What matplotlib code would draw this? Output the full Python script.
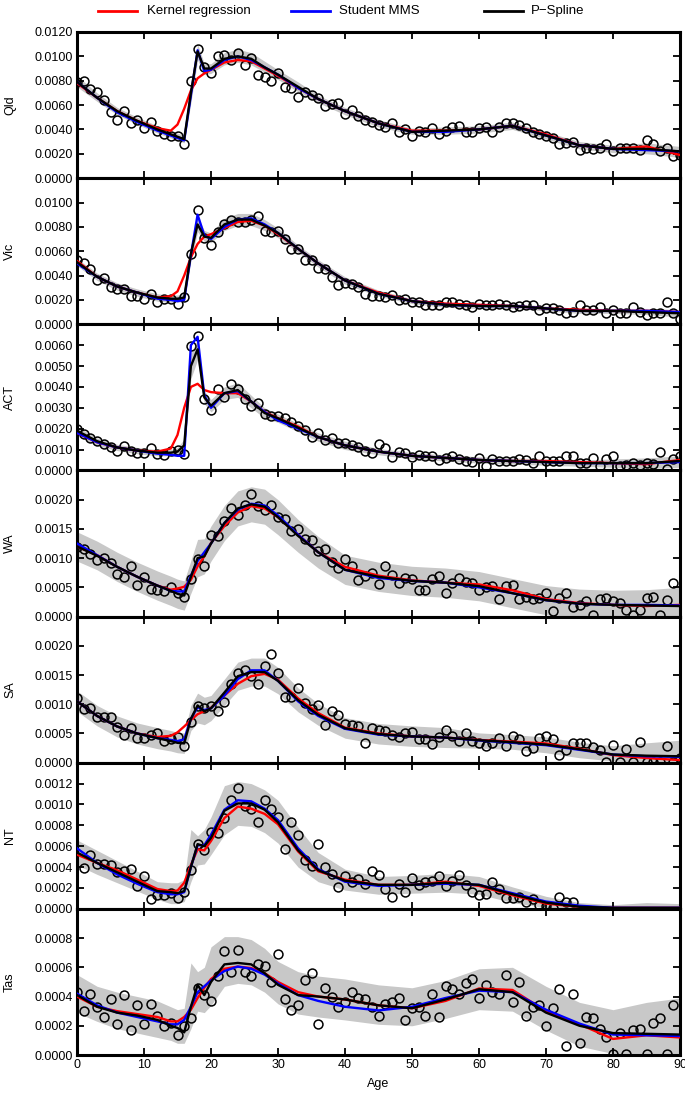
import numpy as np
import matplotlib
matplotlib.use("Agg")
import matplotlib.pyplot as plt
from matplotlib.lines import Line2D
from matplotlib.ticker import FormatStrFormatter

plt.rcParams['font.family'] = ['Liberation Sans', 'DejaVu Sans']

nan = np.nan
SCALE = 1e-4  # all values below are in units of 1e-4

ages = np.arange(0, 91)
grid_ages = [0, 3, 6, 9, 12,
             14, 15, 16, 17, 18, 19, 20,
             22, 24, 26, 28, 30,
             33, 36, 40,
             45, 50, 55, 60, 65, 70, 75, 80, 85, 90]

region_names = ["Qld", "Vic", "ACT", "WA", "SA", "NT", "Tas"]
legend_labels = ["Kernel regression", "Student MMS", "P\u2212Spline"]

# ---------------- Qld ----------------
qld_obs = [79, 80, 73, 71, 64, 54, 48, 55, 45, 48,
           41, 46, 39, 36, 35, 35, 28, 80, 106, 91,
           86, 100, 101, 97, 103, 93, 99, 85, 83, 80,
           86, 75, 74, 67, 71, 68, 66, 59, 61, 62,
           53, 56, 51, 48, 46, 44, 42, 45, 38, 40,
           35, 39, 38, 41, 36, 39, 42, 43, 38, 38,
           41, 42, 38, 42, 45, 45, 44, 41, 38, 36,
           35, 33, 28, 29, 30, 23, 25, 24, 25, 28,
           22, 25, 25, 25, 23, 31, 28, 22, 25, 18,
           19]
qld_kernel = [78, 66, 55, 47, 41, 39, 44, 57, 72, 82, 86, 89, 95, 97, 96, 90, 84,
              74, 65, 55, 45, 39, 39, 40, 43, 36, 27, 24, 26, 19]
qld_mms = [79, 66, 54, 46, 39, 35, 33, 31, 68, 105, 88, 89, 97, 100, 97, 91, 85,
           74, 65, 55, 45, 38, 38, 40, 43, 35, 27, 24, 23, 22]
qld_pspline = [79, 66, 55, 47, 40, 36, 34, 32, 70, 104, 90, 90, 98, 100, 98, 91, 85,
               75, 65, 55, 45, 38, 39, 40, 43, 35, 27, 24, 24, 22]
qld_lo = [75, 63, 52, 44, 37, 33, 31, 29, 62, 97, 85, 86, 93, 95, 93, 87, 81,
          71, 62, 52, 42, 36, 36, 37, 40, 32, 24, 21, 20, 17]
qld_hi = [84, 70, 58, 50, 43, 39, 37, 35, 76, 110, 94, 94, 103, 106, 103, 96, 89,
          79, 68, 58, 48, 41, 42, 43, 46, 38, 30, 27, 29, 26]

# ---------------- Vic ----------------
vic_obs = [53, 50, 45, 36, 38, 31, 29, 29, 23, 23,
           21, 25, 18, 21, 21, 17, 22, 58, 94, 71,
           65, 76, 82, 86, 84, 84, 86, 89, 77, 76,
           77, 70, 62, 62, 53, 53, 46, 45, 39, 32,
           34, 33, 31, 25, 23, 23, 22, 24, 20, 21,
           18, 18, 16, 16, 16, 18, 18, 17, 16, 14,
           17, 16, 16, 17, 16, 14, 15, 16, 16, 12,
           13, 13, 12, 9, 10, 16, 12, 12, 14, 9,
           12, 9, 9, 14, 10, 8, 9, 9, 18, 9,
           4]
vic_kernel = [52, 39, 31, 26, 22, 23, 27, 40, 55, 66, 72, 74, 79, 84, 85, 81, 74,
              62, 50, 36, 26, 19, 17, 16, 15, 13, 12, 11, 11, 10]
vic_mms = [50, 39, 31, 26, 21, 20, 19, 20, 57, 90, 73, 70, 80, 86, 87, 82, 75,
           62, 50, 36, 25, 19, 16, 15, 15, 13, 11, 11, 11, 10]
vic_pspline = [51, 39, 31, 26, 22, 21, 21, 22, 58, 82, 72, 71, 82, 86, 86, 81, 75,
               62, 50, 36, 25, 19, 16, 15, 15, 13, 11, 11, 10, 9]
vic_lo = [48, 36, 28, 23, 19, 18, 18, 19, 52, 76, 68, 67, 77, 81, 81, 77, 71,
          59, 47, 33, 23, 17, 14, 13, 13, 11, 9, 9, 8, 6]
vic_hi = [54, 42, 34, 29, 25, 24, 24, 25, 63, 88, 77, 75, 87, 91, 91, 86, 79,
          65, 53, 39, 28, 21, 18, 17, 17, 15, 13, 13, 13, 12]

# ---------------- ACT ----------------
act_obs = [20, 17.5, 15.3, 14, 12.7, 11.3, 9.5, 11.6, 9.2, 8.4,
           8.4, 10.8, 7.9, 7.2, 9.2, 9.6, 7.9, 59.8, 64.5, 34,
           29, 38.9, 35.2, 41.3, 38.9, 34.4, 30.9, 32.2, 26.8, 26,
           26, 24.9, 23.3, 21.5, 19.6, 15.9, 18, 14.5, 15.3, 13.2,
           13.2, 12.4, 11.1, 9.5, 8.4, 12.7, 10.8, 6.4, 8.8, 8.4,
           6.4, 7.6, 6.8, 7.1, 5.1, 5.9, 6.8, 5.5, 4.3, 3.9,
           5.9, 1.9, 5.5, 4.3, 4.7, 4.3, 5.5, 4.8, 3.5, 6.8,
           4.3, 4.5, 4.5, 6.8, 6.7, 3.5, 3.5, 5.9, 1.9, 5.6,
           6.8, 1.9, 2.4, 3.5, 2.7, 3.4, 3.2, 8.7, 0.6, 5.5,
           6.8]
act_kernel = [18, 13.5, 11, 9.5, 9, 10.5, 17, 30, 40, 41.5, 38.5, 37.5, 37, 37, 33, 28, 25,
              21, 16, 12, 9, 7, 6, 5, 4.5, 4.5, 4, 3.5, 3, 5]
act_mms = [18, 13.5, 11, 9.5, 8, 7.5, 7, 7, 60, 64, 36, 30, 37, 38, 33, 28, 24,
           20, 16, 12, 9, 7, 6, 5, 4.5, 4, 3.5, 3.5, 3.5, 4]
act_pspline = [19, 14, 11, 9.5, 8.5, 8.5, 9, 12, 50, 58, 35, 31, 37, 38.5, 33, 27.5, 25,
               20.5, 16, 12, 9, 7, 6, 5, 4.5, 4, 3.5, 3.5, 3.5, 4.5]
act_lo = [16.5, 12, 9.5, 8, 7, 7, 7, 9, 44, 53, 32, 28, 34, 35, 30, 25, 23,
          18.5, 14, 10, 7.5, 5.5, 4.5, 3.5, 3, 2.5, 2, 1.5, 1, 1.5]
act_hi = [21, 15.5, 12.5, 11, 10, 10, 11, 15, 56, 63, 38, 34, 40, 42, 36, 30, 27,
          22.5, 18, 14, 10.5, 8.5, 7.5, 6.5, 6, 5.5, 5, 5.5, 6, 7]

# ---------------- WA ----------------
wa_obs = [11.9, 11.5, 10.7, 9.7, 10.1, 9.1, 7.3, 6.7, 8.7, 5.4,
          6.7, 4.7, 4.5, 4.4, 5.1, 4.0, 3.3, 6.5, 9.8, 8.7,
          14.0, 13.8, 16.3, 18.6, 17.3, 19.1, 20.9, 18.9, 18.2, 19.1,
          17.0, 16.7, 14.6, 14.9, 13.3, 13.1, 11.3, 11.5, 9.3, 8.3,
          9.9, 8.7, 6.3, 7.0, 7.4, 5.6, 8.7, 7.1, 5.8, 6.6,
          6.4, 4.6, 4.6, 6.5, 6.9, 4.0, 5.7, 6.6, 5.9, 5.8,
          4.6, 5.1, 5.3, 3.0, 5.3, 5.4, 3.0, 3.3, 3.0, 3.1,
          4.0, 1.0, 3.1, 4.1, 1.7, 2.0, 2.6, 0.3, 3.0, 3.1,
          2.7, 2.3, 1.1, 0.3, 1.1, 3.1, 3.4, 0.3, 2.9, 5.8,
          nan]
wa_kernel = [12, 10.5, 8.5, 6.8, 5.3, 4.6, 4.8, 5.1, 6.3, 8.6, 10.3, 12.6, 15.5, 17.8, 18.9, 18.5, 17,
             14, 11, 8.5, 7, 6.2, 5.8, 5.5, 4.5, 3, 2.3, 2, 1.8, 2]
wa_mms = [12.5, 10.5, 8.5, 6.8, 5.3, 4.4, 4.3, 4.3, 7, 9.5, 11, 12.5, 16, 18.3, 19.3, 19, 17.3,
          14, 11, 8, 6.6, 6.1, 5.8, 5, 4, 2.8, 2.2, 2, 2, 1.9]
wa_pspline = [12, 10.4, 8.5, 6.8, 5.3, 4.4, 3.9, 3.6, 6.8, 10, 10.3, 12.5, 16, 18.5, 19.2, 18.8, 17,
              13.8, 11, 8, 6.8, 6.1, 5.8, 5.2, 4, 2.8, 2.2, 2, 1.9, 1.8]
wa_lo = [9.5, 8, 6, 4.3, 2.8, 1.9, 1.4, 1.1, 4, 6.8, 7.3, 9.5, 13, 15.5, 16.2, 15.8, 14,
         11, 8.3, 5.5, 4.3, 3.6, 3.3, 2.7, 1.5, 0.3, 0, 0, 0, 0]
wa_hi = [14.5, 12.9, 11, 9.3, 7.8, 6.9, 6.4, 6.1, 9.6, 13.2, 13.3, 15.5, 19, 21.5, 22.2, 21.8, 20,
         16.6, 13.7, 10.5, 9.3, 8.6, 8.3, 7.7, 6.5, 5.3, 4.7, 4.5, 4.6, 5]

# ---------------- SA ----------------
sa_obs = [11.1, 9.2, 9.4, 7.8, 7.8, 7.8, 6.1, 4.7, 5.9, 4.3,
          4.3, 4.7, 5.1, 3.7, 4.1, 4.4, 2.8, 7.0, 9.7, 9.3,
          9.7, 8.8, 10.4, 13.5, 15.3, 15.8, 14.9, 13.5, 16.5, 18.6,
          15.3, 11.3, 11.3, 12.7, 10.2, 9.2, 9.9, 6.4, 8.8, 8.1,
          6.7, 6.4, 6.3, 3.4, 6.0, 5.6, 5.4, 4.7, 4.4, 5.1,
          5.2, 4.1, 4.1, 3.2, 4.4, 5.6, 4.5, 3.8, 5.1, 3.7,
          3.3, 2.9, 3.4, 4.2, 2.8, 4.6, 4.1, 2.0, 2.5, 4.2,
          4.5, 4.0, 1.3, 2.2, 3.3, 3.3, 3.4, 2.7, 2.1, 0.05,
          3.1, 0.05, 2.4, 0.05, 3.6, 0.05, 0.05, 0.05, 2.9, 0.05,
          0.8]
sa_kernel = [10.5, 8, 6.2, 5, 4.4, 4.6, 5.2, 6.2, 7.3, 8.3, 8.8, 9.4, 11.5, 13.5, 14.8, 15.2, 14.2,
             11, 8.5, 6, 5, 4.5, 4.3, 3.9, 3.6, 3.3, 2.4, 1.3, 0.8, 0.45]
sa_mms = [10.5, 8, 6.2, 5, 4.2, 3.9, 3.7, 4, 7.5, 9.5, 9, 9.3, 11.5, 14.3, 15.8, 15.8, 14,
          10.5, 8, 5.8, 4.8, 4.5, 4.3, 3.8, 3.4, 3, 2.2, 1.4, 1.1, 1.0]
sa_pspline = [10.5, 8, 6.2, 5, 4.2, 3.7, 3.4, 3.3, 7.5, 9.8, 8.8, 9.3, 12, 14.8, 15.5, 15.5, 14,
              10.7, 8.2, 5.9, 4.9, 4.5, 4.3, 3.85, 3.5, 3.1, 2.3, 1.4, 1.2, 1.1]
sa_lo = [8.8, 6.3, 4.4, 3.2, 2.4, 2.0, 1.7, 1.6, 5.5, 6.8, 6.5, 7.2, 9.8, 12.4, 13.1, 13.1, 11.8,
         8.7, 6.4, 4.2, 3.2, 2.8, 2.6, 2.5, 2.3, 1.7, 0.85, 0.3, 0, 0]
sa_hi = [12.3, 9.8, 8.0, 6.8, 6.0, 5.5, 5.2, 5.1, 9.8, 11.9, 11.2, 11.5, 14.3, 17.2, 17.9, 17.9, 16.3,
         12.8, 10.1, 7.7, 6.7, 6.3, 6.0, 5.1, 4.8, 4.4, 3.5, 2.9, 3.4, 3.85]

# ---------------- NT ----------------
nt_obs = [nan, 3.9, 5.2, 4.3, 4.3, 4.2, 3.5, 3.6, 3.8, 2.2,
          3.1, 0.9, 1.3, 1.3, 1.5, 1.0, 1.6, 3.7, 6.2, 5.6,
          7.4, 7.3, 8.7, 10.4, 11.6, 9.9, 9.6, 8.3, 10.4, 9.6,
          8.8, 5.7, 8.3, 7.1, 4.7, 4.1, 6.2, 4.0, 3.3, 2.1,
          3.1, 2.6, 2.9, 2.4, 3.6, 3.2, 1.9, 1.1, 2.4, 1.6,
          3.0, 2.3, 2.6, 2.7, 3.1, 2.2, 2.7, 3.2, 2.3, 1.6,
          1.3, 1.4, 2.6, 1.9, 1.0, 1.0, 1.1, 0.7, 0.9, 0.4,
          0.3, 0.1, 1.1, 0.7, 0.7, nan, nan, nan, nan, nan,
          nan, nan, nan, nan, nan, nan, nan, nan, nan, nan,
          nan]
nt_kernel = [5.2, 4.4, 3.7, 2.8, 1.9, 1.7, 1.75, 2.5, 4.2, 5.7, 5.6, 6.5, 8.7, 9.8, 9.6, 9.1, 8.1,
             5.5, 3.6, 2.8, 2.3, 2.3, 2.6, 2.2, 1.3, 0.5, 0.2, 0.1, 0.1, 0.1]
nt_mms = [5.8, 4.4, 3.3, 2.4, 1.6, 1.4, 1.4, 1.6, 4.0, 6.1, 6.1, 7.1, 9.5, 10.4, 10.3, 9.6, 8.5,
          5.8, 3.8, 2.6, 2.2, 2.3, 2.4, 2.3, 1.5, 0.7, 0.3, 0.1, 0.1, 0.1]
nt_pspline = [5.4, 4.4, 3.5, 2.6, 1.7, 1.6, 1.5, 1.7, 4.0, 6.2, 6.0, 6.8, 9.4, 10.1, 10.1, 9.5, 8.3,
              5.6, 3.7, 2.7, 2.3, 2.3, 2.5, 2.3, 1.4, 0.6, 0.2, 0.1, 0.1, 0.1]
nt_lo = [4.2, 3.3, 2.5, 1.7, 0.9, 0.5, 0.5, 0.7, 2.6, 4.2, 4.3, 5.2, 7.1, 8.0, 7.9, 7.3, 6.3,
         4.0, 2.6, 1.8, 1.4, 1.5, 1.6, 1.4, 0.6, 0.1, 0, 0, 0, 0]
nt_hi = [6.6, 5.6, 4.6, 3.6, 2.6, 2.5, 2.5, 2.8, 7.6, 7.0, 7.6, 8.8, 11.8, 12.2, 12.0, 11.4, 10.4,
         7.8, 5.4, 3.8, 3.1, 3.2, 3.4, 3.1, 2.1, 1.2, 0.6, 0.4, 0.6, 0.5]

# ---------------- Tas ----------------
tas_obs = [4.3, 3.0, 4.2, 3.3, 2.6, 3.8, 2.1, 4.1, 1.7, 3.4,
           2.1, 3.5, 2.7, 2.0, 2.2, 1.4, 2.0, 2.5, 4.6, 4.1,
           3.7, 5.4, 7.1, 5.7, 7.2, 5.7, 5.4, 6.2, 6.1, 5.0,
           6.9, 3.8, 3.1, 3.4, 5.1, 5.6, 2.1, 4.6, 4.0, 3.3,
           3.6, 4.3, 3.9, 3.8, 3.3, 2.7, 3.5, 3.6, 3.9, 2.4,
           3.2, 3.3, 2.7, 4.2, 2.6, 4.7, 4.5, 4.2, 4.9, 5.2,
           3.9, 4.8, 4.3, 4.2, 5.5, 3.6, 5.0, 2.7, 3.3, 3.4,
           2.0, 3.2, 4.5, 0.6, 4.2, 0.8, 2.6, 2.5, 1.8, 1.2,
           0.05, 1.5, 0.05, 1.7, 1.8, 0.05, 2.2, 2.5, 0.05, 3.4,
           nan]
tas_kernel = [4.0, 3.3, 3.0, 2.8, 2.6, 2.3, 2.3, 2.6, 3.1, 3.9, 4.6, 5.2, 5.9, 6.05, 5.95, 5.6, 5.0,
              4.3, 4.0, 3.8, 3.4, 3.2, 3.7, 4.55, 4.45, 3.0, 2.1, 1.1, 1.35, 1.2]
tas_mms = [4.2, 3.4, 2.9, 2.6, 2.3, 2.1, 2.1, 2.4, 3.3, 4.3, 4.7, 5.1, 5.75, 6.05, 5.9, 5.5, 4.9,
           4.1, 3.7, 3.3, 3.05, 3.3, 3.9, 4.4, 4.3, 3.1, 2.15, 1.4, 1.35, 1.3]
tas_pspline = [4.1, 3.3, 2.9, 2.7, 2.4, 2.0, 1.85, 1.55, 3.3, 4.8, 4.1, 5.0, 6.2, 6.3, 6.2, 5.6, 4.8,
               4.1, 4.0, 3.8, 3.4, 3.2, 3.8, 4.5, 4.3, 2.9, 2.0, 1.5, 1.45, 1.4]
tas_lo = [2.9, 2.3, 1.8, 1.5, 1.2, 1.0, 0.8, 0.8, 1.8, 3.0, 2.9, 3.4, 4.7, 4.9, 4.8, 4.3, 3.5,
          2.8, 2.6, 2.4, 2.1, 2.0, 2.5, 3.1, 3.0, 1.7, 0.6, 0.1, 0, 0]
tas_hi = [5.5, 4.7, 4.3, 4.0, 3.7, 3.3, 3.1, 3.2, 6.3, 5.7, 6.0, 7.4, 8.1, 8.1, 7.9, 7.3, 6.4,
          5.7, 5.4, 5.2, 4.8, 4.6, 5.1, 5.9, 6.0, 4.7, 3.6, 3.1, 3.6, 3.9]

y_max = [0.0120, 0.0120, 0.0070, 0.0025, 0.0025, 0.0014, 0.0010]
y_ticks = [
    [0.0, 0.002, 0.004, 0.006, 0.008, 0.010, 0.012],
    [0.0, 0.002, 0.004, 0.006, 0.008, 0.010],
    [0.0, 0.001, 0.002, 0.003, 0.004, 0.005, 0.006],
    [0.0, 0.0005, 0.0010, 0.0015, 0.0020],
    [0.0, 0.0005, 0.0010, 0.0015, 0.0020],
    [0.0, 0.0002, 0.0004, 0.0006, 0.0008, 0.0010, 0.0012],
    [0.0, 0.0002, 0.0004, 0.0006, 0.0008],
]
x_ticks = [0, 10, 20, 30, 40, 50, 60, 70, 80, 90]

panels = [
    (qld_obs, qld_kernel, qld_mms, qld_pspline, qld_lo, qld_hi),
    (vic_obs, vic_kernel, vic_mms, vic_pspline, vic_lo, vic_hi),
    (act_obs, act_kernel, act_mms, act_pspline, act_lo, act_hi),
    (wa_obs, wa_kernel, wa_mms, wa_pspline, wa_lo, wa_hi),
    (sa_obs, sa_kernel, sa_mms, sa_pspline, sa_lo, sa_hi),
    (nt_obs, nt_kernel, nt_mms, nt_pspline, nt_lo, nt_hi),
    (tas_obs, tas_kernel, tas_mms, tas_pspline, tas_lo, tas_hi),
]

W, H = 685, 1098
fig = plt.figure(figsize=(W / 100, H / 100), dpi=100)
gs = fig.add_gridspec(7, 1, left=77 / W, right=680 / W, top=1 - 32 / H,
                      bottom=1 - 1055 / H, hspace=0)

curve_colors = ["#ff0000", "#0000ff", "#000000"]
fs = 9

for i, (name, data) in enumerate(zip(region_names, panels)):
    obs, ker, mms, psp, lo, hi = [np.asarray(d, dtype=float) * SCALE for d in data]
    ax = fig.add_subplot(gs[i])
    ax.fill_between(grid_ages, lo, hi, color="#c8c8c8", lw=0, zorder=1)
    ax.plot(ages, obs, linestyle="none", marker="o", ms=6.4, mfc="none",
            mec="black", mew=1.1, zorder=2)
    for k, (curve, c) in enumerate(zip((ker, mms, psp), curve_colors)):
        ax.plot(grid_ages, curve, color=c, lw=1.7, zorder=3 + k,
                solid_joinstyle="round")
    ax.set_xlim(0, 90)
    ax.set_ylim(0, y_max[i])
    ax.set_xticks(x_ticks)
    ax.set_yticks(y_ticks[i])
    ax.yaxis.set_major_formatter(FormatStrFormatter("%.4f"))
    ax.tick_params(direction="in", length=5, width=1.3, top=True, right=True,
                   labelsize=fs, pad=3)
    if i < 6:
        ax.tick_params(labelbottom=False)
    else:
        ax.set_xlabel("Age", fontsize=fs, labelpad=5)
    ax.set_ylabel(name, fontsize=fs, va="center")
    ax.yaxis.set_label_coords((10 - 77) / (680 - 77), 0.5)
    for sp in ax.spines.values():
        sp.set_linewidth(2.2)

# legend row
ly = 1 - 11 / H
leg_x = [(98, 137, 147), (291, 330, 339), (484, 523, 531)]
for (x0, x1, xt), lab, c in zip(leg_x, legend_labels, curve_colors):
    fig.add_artist(Line2D([x0 / W, x1 / W], [ly, ly], transform=fig.transFigure,
                          color=c, lw=2.0))
    fig.text(xt / W, ly, lab, fontsize=9.5, va="center", ha="left")

fig.savefig("out.png", dpi=100)
